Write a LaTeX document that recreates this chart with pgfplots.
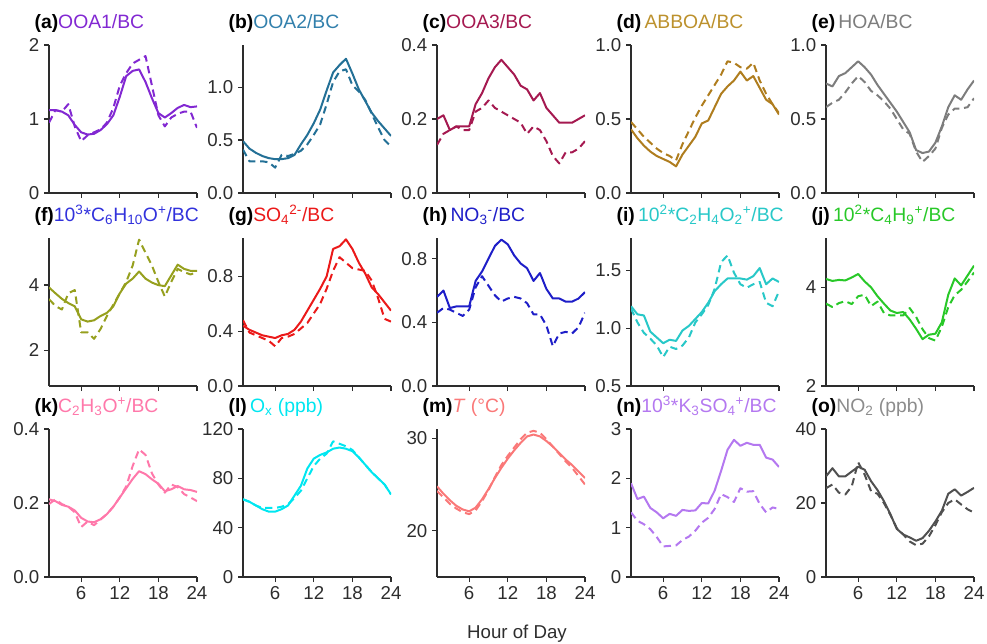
\documentclass[border=0pt]{standalone}
\usepackage{fontspec}
\setmainfont{Liberation Sans}
\usepackage{pgfplots}
\usepackage{pgfplotstable}
\pgfplotsset{compat=1.18}

\definecolor{axc}{RGB}{45,45,45}
\definecolor{cA}{RGB}{130,40,210}
\definecolor{cBt}{RGB}{50,128,172}
\definecolor{cB}{RGB}{35,112,150}
\definecolor{cC}{RGB}{165,25,80}
\definecolor{cDt}{RGB}{188,145,45}
\definecolor{cD}{RGB}{175,125,30}
\definecolor{cE}{RGB}{125,125,125}
\definecolor{cFt}{RGB}{50,50,220}
\definecolor{cF}{RGB}{150,160,30}
\definecolor{cG}{RGB}{235,25,25}
\definecolor{cH}{RGB}{30,30,200}
\definecolor{cI}{RGB}{40,200,200}
\definecolor{cJ}{RGB}{40,200,40}
\definecolor{cK}{RGB}{255,120,170}
\definecolor{cL}{RGB}{0,230,240}
\definecolor{cM}{RGB}{250,120,120}
\definecolor{cN}{RGB}{180,120,240}
\definecolor{cO}{RGB}{80,80,80}
\definecolor{cOt}{RGB}{140,140,140}

% hourly diurnal profiles: s = solid series, d = dashed series
\pgfplotstableread{
h s d
1 1.12 0.95
2 1.12 1.12
3 1.10 1.10
4 1.05 1.20
5 0.92 0.90
6 0.82 0.70
7 0.79 0.78
8 0.80 0.82
9 0.85 0.86
10 0.93 0.95
11 1.05 1.15
12 1.30 1.45
13 1.58 1.62
14 1.65 1.75
15 1.67 1.80
16 1.50 1.85
17 1.28 1.45
18 1.08 1.05
19 1.02 0.90
20 1.08 1.02
21 1.15 1.07
22 1.19 1.10
23 1.16 1.10
24 1.17 0.88
}\tabA
\pgfplotstableread{
h s d
1 0.49 0.41
2 0.42 0.30
3 0.38 0.30
4 0.35 0.30
5 0.33 0.29
6 0.32 0.24
7 0.32 0.36
8 0.33 0.35
9 0.36 0.37
10 0.46 0.40
11 0.55 0.46
12 0.66 0.55
13 0.79 0.65
14 0.97 0.84
15 1.14 1.05
16 1.21 1.15
17 1.27 1.17
18 1.13 1.02
19 0.98 0.96
20 0.87 0.88
21 0.76 0.75
22 0.68 0.62
23 0.61 0.50
24 0.54 0.44
}\tabB
\pgfplotstableread{
h s d
1 0.20 0.13
2 0.21 0.16
3 0.17 0.17
4 0.18 0.18
5 0.18 0.17
6 0.18 0.17
7 0.24 0.22
8 0.27 0.23
9 0.31 0.25
10 0.34 0.23
11 0.36 0.22
12 0.34 0.21
13 0.32 0.20
14 0.29 0.19
15 0.28 0.16
16 0.25 0.18
17 0.27 0.17
18 0.23 0.14
19 0.21 0.10
20 0.19 0.08
21 0.19 0.11
22 0.19 0.11
23 0.20 0.12
24 0.21 0.14
}\tabC
\pgfplotstableread{
h s d
1 0.43 0.48
2 0.37 0.43
3 0.32 0.38
4 0.28 0.34
5 0.25 0.30
6 0.23 0.27
7 0.21 0.25
8 0.18 0.22
9 0.26 0.33
10 0.32 0.42
11 0.38 0.51
12 0.47 0.59
13 0.49 0.66
14 0.58 0.73
15 0.67 0.80
16 0.72 0.89
17 0.76 0.88
18 0.82 0.85
19 0.76 0.84
20 0.79 0.88
21 0.71 0.76
22 0.63 0.67
23 0.60 0.60
24 0.53 0.54
}\tabD
\pgfplotstableread{
h s d
1 0.74 0.58
2 0.72 0.61
3 0.79 0.63
4 0.81 0.68
5 0.85 0.74
6 0.89 0.79
7 0.85 0.75
8 0.80 0.69
9 0.73 0.66
10 0.67 0.62
11 0.61 0.57
12 0.55 0.50
13 0.48 0.43
14 0.41 0.40
15 0.29 0.28
16 0.27 0.21
17 0.28 0.25
18 0.34 0.30
19 0.45 0.44
20 0.58 0.53
21 0.66 0.57
22 0.63 0.57
23 0.70 0.58
24 0.76 0.64
}\tabE
\pgfplotstableread{
h s d
1 3.93 3.57
2 3.75 3.36
3 3.58 3.25
4 3.45 3.75
5 3.35 3.85
6 2.95 2.55
7 2.88 2.55
8 2.92 2.35
9 3.05 2.65
10 3.15 3.05
11 3.35 3.40
12 3.75 3.75
13 4.05 4.10
14 4.20 4.60
15 4.42 5.40
16 4.20 5.00
17 4.08 4.60
18 4.00 4.10
19 3.97 3.65
20 4.30 4.10
21 4.63 4.50
22 4.50 4.40
23 4.44 4.33
24 4.44 4.40
}\tabF
\pgfplotstableread{
h s d
1 0.44 0.48
2 0.41 0.39
3 0.39 0.37
4 0.37 0.35
5 0.36 0.33
6 0.35 0.29
7 0.37 0.35
8 0.38 0.36
9 0.41 0.38
10 0.47 0.42
11 0.55 0.46
12 0.63 0.53
13 0.71 0.60
14 0.80 0.71
15 1.00 0.84
16 1.02 0.94
17 1.07 0.90
18 1.00 0.86
19 0.90 0.85
20 0.82 0.84
21 0.72 0.77
22 0.67 0.64
23 0.61 0.49
24 0.55 0.47
}\tabG
\pgfplotstableread{
h s d
1 0.56 0.46
2 0.60 0.49
3 0.49 0.48
4 0.50 0.46
5 0.50 0.44
6 0.50 0.48
7 0.66 0.62
8 0.72 0.69
9 0.80 0.63
10 0.88 0.57
11 0.92 0.53
12 0.89 0.55
13 0.82 0.56
14 0.77 0.55
15 0.74 0.52
16 0.66 0.45
17 0.71 0.45
18 0.61 0.38
19 0.55 0.25
20 0.55 0.33
21 0.53 0.34
22 0.53 0.33
23 0.55 0.37
24 0.59 0.46
}\tabH
\pgfplotstableread{
h s d
1 1.19 1.17
2 1.12 1.05
3 1.11 0.96
4 0.97 0.91
5 0.92 0.85
6 0.87 0.75
7 0.90 0.84
8 0.89 0.82
9 0.98 0.85
10 1.02 0.92
11 1.08 1.05
12 1.14 1.12
13 1.22 1.20
14 1.32 1.34
15 1.38 1.57
16 1.43 1.63
17 1.43 1.48
18 1.43 1.38
19 1.42 1.35
20 1.45 1.38
21 1.52 1.40
22 1.38 1.22
23 1.43 1.19
24 1.40 1.32
}\tabI
\pgfplotstableread{
h s d
1 4.17 3.67
2 4.13 3.60
3 4.15 3.68
4 4.14 3.72
5 4.20 3.66
6 4.27 3.82
7 4.12 3.85
8 4.00 3.62
9 3.82 3.71
10 3.67 3.48
11 3.53 3.43
12 3.48 3.43
13 3.50 3.43
14 3.35 3.58
15 3.16 3.40
16 2.95 3.15
17 3.04 2.97
18 3.06 2.92
19 3.29 3.20
20 3.85 3.60
21 4.18 3.84
22 4.04 3.95
23 4.24 4.12
24 4.44 4.30
}\tabJ
\pgfplotstableread{
h s d
1 0.210 0.197
2 0.205 0.210
3 0.195 0.197
4 0.190 0.190
5 0.180 0.175
6 0.160 0.135
7 0.150 0.150
8 0.148 0.140
9 0.156 0.155
10 0.170 0.170
11 0.190 0.190
12 0.215 0.215
13 0.240 0.245
14 0.265 0.300
15 0.286 0.345
16 0.278 0.330
17 0.264 0.280
18 0.252 0.250
19 0.232 0.228
20 0.237 0.250
21 0.246 0.243
22 0.237 0.224
23 0.235 0.215
24 0.230 0.205
}\tabK
\pgfplotstableread{
h s d
1 63 63
2 61 61
3 58 58
4 55 56
5 53 56
6 53 56
7 55 57
8 58 59
9 66 64
10 74 70
11 88 80
12 96 90
13 99 96
14 101 100
15 104 110
16 105 108
17 104 106
18 102 103
19 97 97
20 91 91
21 85 85
22 80 80
23 75 75
24 67 67
}\tabL
\pgfplotstableread{
h s d
1 24.8 24.3
2 24.0 23.6
3 23.3 22.9
4 22.7 22.4
5 22.3 22.0
6 22.1 21.8
7 22.5 22.2
8 23.4 23.2
9 24.5 24.4
10 25.7 25.8
11 26.8 27.1
12 27.8 28.1
13 28.7 29.0
14 29.5 29.9
15 30.2 30.6
16 30.4 30.8
17 30.2 30.6
18 29.7 29.9
19 29.1 29.1
20 28.4 28.3
21 27.7 27.5
22 27.1 26.8
23 26.4 25.9
24 25.7 25.0
}\tabM
\pgfplotstableread{
h s d
1 1.90 1.31
2 1.58 1.14
3 1.63 1.07
4 1.40 0.97
5 1.31 0.81
6 1.19 0.62
7 1.28 0.63
8 1.24 0.64
9 1.36 0.75
10 1.34 0.82
11 1.35 0.94
12 1.50 1.10
13 1.49 1.20
14 1.75 1.38
15 2.15 1.68
16 2.58 1.62
17 2.78 1.52
18 2.66 1.80
19 2.72 1.73
20 2.68 1.74
21 2.68 1.48
22 2.42 1.31
23 2.38 1.41
24 2.23 1.38
}\tabN
\pgfplotstableread{
h s d
1 27.2 24.0
2 29.4 25.0
3 27.2 22.8
4 27.2 22.3
5 28.5 24.5
6 29.8 31.0
7 29.0 27.7
8 25.9 23.2
9 23.5 22.5
10 20.5 20.0
11 17.0 16.8
12 13.0 13.2
13 11.5 11.5
14 10.7 9.6
15 9.8 8.6
16 10.5 9.0
17 12.5 11.0
18 15.0 14.0
19 17.9 17.5
20 22.5 20.0
21 23.7 21.0
22 22.0 19.6
23 23.0 18.3
24 24.1 17.4
}\tabO

\pgfplotsset{
  panel/.style={
    scale only axis, width=111pt, height=111pt, anchor=south west,
    axis x line*=bottom, axis y line*=left,
    axis line style={-, line width=1pt, draw=axc},
    xmin=1, xmax=24, xtick={6,12,18,24},
    tick align=outside, major tick length=3.75pt,
    every tick/.style={line width=1pt, draw=axc},
    ticklabel style={font=\fontsize{14}{14}\selectfont, text=axc},
    /pgf/number format/assume math mode=true,
    title style={at={(0,1)}, anchor=base west, xshift=-11pt, yshift=6.5pt,
      font=\fontsize{14.5}{14.5}\selectfont, inner sep=0pt},
    every axis plot/.append style={line width=1.5pt, line join=round},
  },
  notx/.style={xticklabels={}},
  dec/.style={yticklabel style={/pgf/number format/.cd, fixed, fixed zerofill, precision=1}},
  dsh/.style={dash pattern=on 5.5pt off 3.5pt},
}

\newcommand{\pair}[2]{%
  \addplot[#1] table[x=h,y=s]{#2};
  \addplot[#1, dsh] table[x=h,y=d]{#2};}

\begin{document}
\begin{tikzpicture}
\path[use as bounding box] (0,0) rectangle (740.25pt,482.25pt);

% ---- row 1 ----
\begin{axis}[panel, notx, at={(36.75pt,337.5pt)}, ymin=0, ymax=2, ytick={0,1,2},
  title={\textbf{(a)}\textcolor{cA}{OOA1/BC}}]
\pair{cA}{\tabA}
\end{axis}
\begin{axis}[panel, notx, dec, at={(182.25pt,337.5pt)}, ymin=0, ymax=1.4, ytick={0,0.5,1},
  title={\textbf{(b)}\textcolor{cBt}{OOA2/BC}}]
\pair{cB}{\tabB}
\end{axis}
\begin{axis}[panel, notx, dec, at={(327.75pt,337.5pt)}, ymin=0, ymax=0.4, ytick={0,0.2,0.4},
  title={\textbf{(c)}\textcolor{cC}{OOA3/BC}}]
\pair{cC}{\tabC}
\end{axis}
\begin{axis}[panel, notx, dec, at={(473.25pt,337.5pt)}, ymin=0, ymax=1, ytick={0,0.5,1},
  title={\textbf{(d)}\,\textcolor{cDt}{ABBOA/BC}}]
\pair{cD}{\tabD}
\end{axis}
\begin{axis}[panel, notx, dec, at={(619.5pt,337.5pt)}, ymin=0, ymax=1, ytick={0,0.5,1},
  title={\textbf{(e)}\,\textcolor{cE}{HOA/BC}}]
\pair{cE}{\tabE}
\end{axis}

% ---- row 2 ----
\begin{axis}[panel, notx, at={(36.75pt,192.75pt)}, ymin=0.9, ymax=5.45, ytick={2,4},
  title={\textbf{(f)}\textcolor{cFt}{10\textsuperscript{3}*C\textsubscript{6}H\textsubscript{10}O\textsuperscript{+}/BC}}]
\pair{cF}{\tabF}
\end{axis}
\begin{axis}[panel, notx, dec, at={(182.25pt,192.75pt)}, ymin=0, ymax=1.08, ytick={0,0.4,0.8},
  title={\textbf{(g)}\textcolor{cG}{SO\textsubscript{4}\textsuperscript{2-}/BC}}]
\pair{cG}{\tabG}
\end{axis}
\begin{axis}[panel, notx, dec, at={(327.75pt,192.75pt)}, ymin=0, ymax=0.93, ytick={0,0.4,0.8},
  title={\textbf{(h)}\,\textcolor{cH}{NO\textsubscript{3}\textsuperscript{-}/BC}}]
\pair{cH}{\tabH}
\end{axis}
\begin{axis}[panel, notx, dec, at={(473.25pt,192.75pt)}, ymin=0.5, ymax=1.78, ytick={0.5,1,1.5},
  title={\textbf{(i)}\,\textcolor{cI}{10\textsuperscript{2}*C\textsubscript{2}H\textsubscript{4}O\textsubscript{2}\textsuperscript{+}/BC}}]
\pair{cI}{\tabI}
\end{axis}
\begin{axis}[panel, notx, at={(619.5pt,192.75pt)}, ymin=2, ymax=5, ytick={2,4},
  title={\textbf{(j)}\,\textcolor{cJ}{10\textsuperscript{2}*C\textsubscript{4}H\textsubscript{9}\textsuperscript{+}/BC}}]
\pair{cJ}{\tabJ}
\end{axis}

% ---- row 3 ----
\begin{axis}[panel, dec, at={(36.75pt,49.5pt)}, ymin=0, ymax=0.4, ytick={0,0.2,0.4},
  title={\textbf{(k)}\textcolor{cK}{C\textsubscript{2}H\textsubscript{3}O\textsuperscript{+}/BC}}]
\pair{cK}{\tabK}
\end{axis}
\begin{axis}[panel, at={(182.25pt,49.5pt)}, ymin=0, ymax=120, ytick={0,40,80,120},
  title={\textbf{(l)}\,\textcolor{cL}{O\textsubscript{x} (ppb)}}]
\pair{cL}{\tabL}
\end{axis}
\begin{axis}[panel, at={(327.75pt,49.5pt)}, ymin=15, ymax=31, ytick={20,30},
  title={\textbf{(m)}\textcolor{cM}{\textit{T} (°C)}}]
\pair{cM}{\tabM}
\end{axis}
\begin{axis}[panel, at={(473.25pt,49.5pt)}, ymin=0, ymax=3, ytick={0,1,2,3},
  title={\textbf{(n)}\textcolor{cN}{10\textsuperscript{3}*K\textsubscript{3}SO\textsubscript{4}\textsuperscript{+}/BC}}]
\pair{cN}{\tabN}
\end{axis}
\begin{axis}[panel, at={(619.5pt,49.5pt)}, ymin=0, ymax=40, ytick={0,20,40},
  title={\textbf{(o)}\textcolor{cOt}{NO\textsubscript{2} (ppb)}}]
\pair{cO}{\tabO}
\end{axis}

\node[anchor=base, font=\fontsize{14}{14}\selectfont, text=axc] at (387.75pt,3.75pt) {Hour of Day};
\end{tikzpicture}
\end{document}
